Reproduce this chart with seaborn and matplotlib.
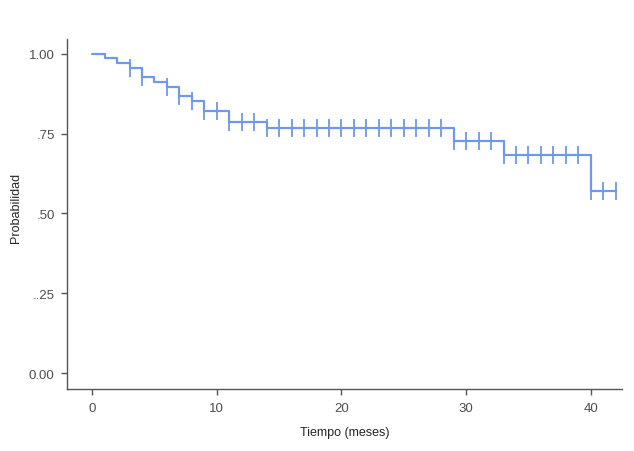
import numpy as np
import pandas as pd
import matplotlib
matplotlib.use("Agg")
import matplotlib.pyplot as plt
import seaborn as sns

# Kaplan-Meier steps
step_time = [0, 1, 2, 3, 4, 5, 6, 7, 8, 9, 11, 14, 29, 33, 40, 42]
step_surv = [1.0, 0.987, 0.972, 0.955, 0.928, 0.913, 0.895, 0.867, 0.852,
             0.821, 0.787, 0.767, 0.728, 0.684, 0.571, 0.571]

# censored observations (tick marks)
censor_time = [3, 4, 6, 7, 8, 9, 10, 11, 12, 13] + list(range(14, 43))

y_ticks = [0.0, 0.25, 0.5, 0.75, 1.0]
y_labels = ["0.00", "..25", ".50", ".75", "1.00"]
x_ticks = [0, 10, 20, 30, 40]

steps = pd.DataFrame({"tiempo": step_time, "prob": step_surv})
idx = np.searchsorted(step_time, censor_time, side="right") - 1
censors = pd.DataFrame({"tiempo": censor_time,
                        "prob": np.array(step_surv)[idx]})

sns.set_style("white")
plt.rcParams["font.family"] = ["Liberation Sans", "DejaVu Sans"]

fig = plt.figure(figsize=(6.34, 4.52), dpi=100)
ax = fig.add_axes([0.106, 0.137, 0.875, 0.775])

color = "#6f98ea"
sns.lineplot(data=steps, x="tiempo", y="prob", drawstyle="steps-post",
             color=color, linewidth=1.6, ax=ax)
sns.scatterplot(data=censors, x="tiempo", y="prob", marker="|", s=170,
                linewidth=1.3, color=color, ax=ax, zorder=3)

ax.set_xlim(-2.0, 42.5)
ax.set_ylim(-0.05, 1.047)
ax.set_xticks(x_ticks)
ax.set_yticks(y_ticks)
ax.set_yticklabels(y_labels)
ax.set_xlabel("Tiempo (meses)", fontsize=9, labelpad=9)
ax.set_ylabel("Probabilidad", fontsize=9)
ax.yaxis.set_label_coords(-0.081, 0.52)
ax.tick_params(axis="both", direction="out", length=4, width=1,
               bottom=True, left=True,
               colors="#555555", labelcolor="#4d4d4d", labelsize=9.5, pad=5)
sns.despine(ax=ax)
for s in ["left", "bottom"]:
    ax.spines[s].set_color("#555555")
    ax.spines[s].set_linewidth(1.0)

fig.savefig("out.png", dpi=100)
